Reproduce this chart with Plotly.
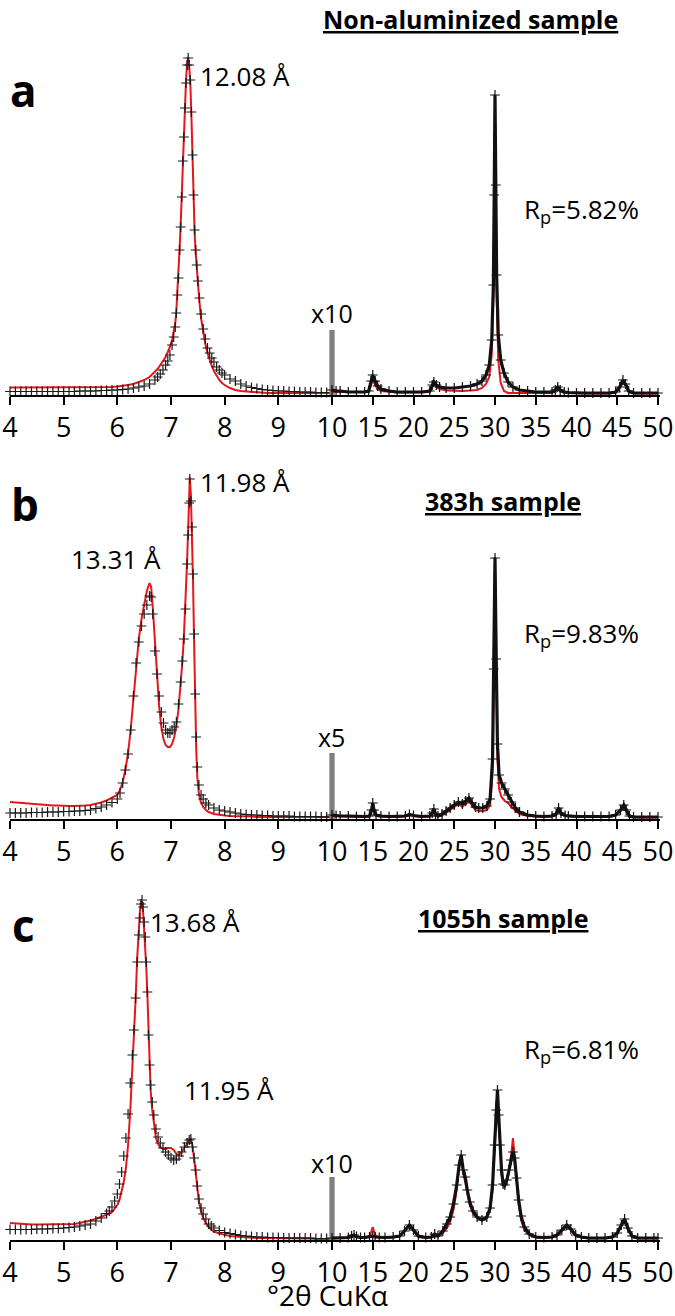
import plotly.graph_objects as go

W, H = 675, 1316

# ---------------- data (intensity in arbitrary units) ----------------
# Panel a : Non-aluminized sample
XA_L = [4.0, 4.1, 4.2, 4.3, 4.4, 4.5, 4.6, 4.7, 4.8, 4.9,
        5.0, 5.1, 5.2, 5.3, 5.4, 5.5, 5.6, 5.7, 5.8, 5.9,
        6.0, 6.1, 6.2, 6.3, 6.4, 6.5, 6.6, 6.7, 6.75, 6.8,
        6.85, 6.9, 6.94, 6.98, 7.02, 7.05, 7.08, 7.1, 7.12, 7.14,
        7.16, 7.18, 7.2, 7.22, 7.24, 7.26, 7.28, 7.3, 7.32, 7.34,
        7.36, 7.38, 7.4, 7.42, 7.44, 7.46, 7.48, 7.5, 7.53, 7.56,
        7.6, 7.64, 7.68, 7.72, 7.76, 7.8, 7.85, 7.9, 7.95, 8.0,
        8.1, 8.2, 8.3, 8.4, 8.5, 8.6, 8.7, 8.8, 8.9, 9.0,
        9.1, 9.2, 9.3, 9.4, 9.5, 9.6, 9.7, 9.8, 9.9, 10.0]
OBS_A_L = [3.5, 3.5, 3.5, 3.5, 3.5, 3.5, 3.5, 3.5, 3.5, 3.5,
           3.5, 3.5, 3.5, 4, 4, 4, 4, 4.5, 4.5, 5,
           5, 5.5, 6, 7, 8, 9, 11, 15, 18, 21,
           25, 30, 34, 40, 50, 58, 68, 82, 100, 117,
           145, 168, 198, 234, 258, 287, 312, 330, 337, 330,
           315, 283, 240, 200, 165, 145, 130, 114, 97, 81,
           66, 56, 47, 42, 37, 33, 28, 25, 22, 20,
           16, 14, 11, 9, 7.5, 6.5, 5.5, 5, 4.5, 4,
           4, 3.5, 3.5, 3, 3, 3, 2.5, 2.5, 2.5, 2.5]
CALC_A_L = [7.5, 7.5, 7.5, 7.5, 7.5, 7.5, 7.5, 7.5, 7.5, 7.5,
            7.5, 7.5, 7.5, 7.5, 7.5, 7.5, 7.5, 8, 8, 8,
            8.5, 9, 10, 11, 13, 15, 18, 23, 26, 30,
            34, 38, 43, 48, 55, 63, 72, 85, 103, 120,
            146, 170, 200, 236, 260, 290, 315, 332, 338, 328,
            312, 280, 238, 198, 163, 142, 125, 110, 93, 77,
            62, 51, 42, 35, 29, 24, 19, 15, 12, 10,
            7, 5, 4, 3.5, 3, 2.5, 2.5, 2, 2, 2,
            2, 2, 2, 2, 2, 2, 2, 2, 2, 2]
XA_R = [10, 10.5, 11, 12, 13, 14, 14.5, 14.8, 15.0, 15.3,
        15.6, 16, 17, 18, 19, 20, 21, 22, 22.3, 22.5,
        22.8, 23.2, 24, 25, 26, 27, 27.8, 28.4, 28.9, 29.3,
        29.6, 29.8, 29.9, 30.0, 30.1, 30.2, 30.4, 30.7, 31.1, 31.6,
        32.2, 33, 34, 35, 36, 37, 37.4, 37.7, 38.0, 38.5,
        39, 40, 41, 42, 43, 44, 44.8, 45.3, 45.7, 46.0,
        46.4, 47, 48, 49, 50]
OBS_A_R = [5, 4, 4, 3, 3, 3, 4, 14, 20, 14,
           9, 6, 4, 3, 3, 3, 3, 4, 10, 13,
           10, 8, 7, 7, 8, 9, 11, 14, 20, 30,
           55, 110, 200, 300, 210, 120, 60, 35, 22, 13,
           8, 5, 4, 3, 3, 3, 5, 8, 5, 3,
           2.5, 2, 2, 2, 2, 2, 3, 8, 15, 11,
           4, 2, 2, 2, 2]
CALC_A_R = [3, 3, 3, 2.5, 2.5, 2.5, 3, 10, 15, 10,
            6, 4, 3, 2.5, 2.5, 2.5, 2.5, 3, 8, 11,
            8, 6, 4.5, 4, 4, 4.5, 5, 7, 11, 18,
            40, 100, 200, 298, 205, 100, 35, 12, 4, 2,
            2, 2, 2, 2, 2, 2, 4, 7, 4, 2,
            2, 1.5, 1.5, 1.5, 1.5, 1.5, 2.5, 7, 13, 10,
            3, 1.5, 1.5, 1.5, 1.5]

# Panel b : 383h sample
XB_L = [4.0, 4.1, 4.2, 4.3, 4.4, 4.5, 4.6, 4.7, 4.8, 4.9,
        5.0, 5.1, 5.2, 5.3, 5.4, 5.5, 5.6, 5.7, 5.8, 5.9,
        6.0, 6.05, 6.1, 6.15, 6.2, 6.25, 6.3, 6.35, 6.4, 6.45,
        6.5, 6.55, 6.6, 6.63, 6.66, 6.7, 6.74, 6.78, 6.82, 6.86,
        6.9, 6.94, 6.98, 7.02, 7.06, 7.1, 7.14, 7.18, 7.21, 7.24,
        7.27, 7.3, 7.32, 7.34, 7.35, 7.37, 7.39, 7.41, 7.43, 7.45,
        7.47, 7.49, 7.52, 7.56, 7.6, 7.65, 7.7, 7.8, 7.9, 8.0,
        8.1, 8.2, 8.3, 8.4, 8.5, 8.6, 8.7, 8.8, 8.9, 9.0,
        9.1, 9.2, 9.3, 9.4, 9.5, 9.6, 9.7, 9.8, 9.9, 10.0]
OBS_B_L = [6, 6, 6, 6, 6.5, 6.5, 6.5, 7, 7, 7,
           7.5, 7.5, 8, 8, 8.5, 9, 10.5, 12, 14, 16.5,
           20, 26, 36, 49, 65, 89, 123, 156, 177, 193,
           205, 214, 223, 222, 205, 168, 145, 123, 107, 96,
           89, 86, 86, 89, 92, 97, 115, 137, 158, 180,
           210, 255, 284, 316, 340, 318, 292, 245, 185, 125,
           82, 52, 34, 24, 20, 16, 14, 11, 9, 8,
           7, 6, 5, 4.5, 4, 4, 3.5, 3.5, 3, 3,
           3, 3, 2.5, 2.5, 2.5, 2.5, 2.5, 2, 2, 2]
CALC_B_L = [17, 16.5, 16, 15.5, 15, 14.5, 14, 14, 13.5, 13.5,
            13, 13, 13, 13, 13.5, 14, 15, 16.5, 18.5, 21,
            24, 29, 37, 49, 66, 90, 122, 155, 180, 200,
            215, 228, 236, 232, 212, 178, 142, 112, 92, 80,
            74, 72, 72, 75, 82, 93, 110, 133, 156, 182,
            215, 258, 290, 325, 342, 325, 290, 240, 178, 115,
            70, 42, 25, 16, 12, 9, 7, 5, 4, 3.5,
            3, 3, 2.5, 2.5, 2.5, 2, 2, 2, 2, 2,
            2, 2, 2, 2, 2, 2, 2, 2, 2, 2]
XB_R = [10, 10.5, 11, 12, 13, 14, 14.6, 14.85, 15.0, 15.15,
        15.4, 16, 17, 18, 19, 19.5, 20, 21, 22, 22.3,
        22.5, 22.7, 23, 23.5, 24, 24.5, 25, 25.5, 26, 26.4,
        26.8, 27.2, 27.6, 28, 28.5, 29, 29.4, 29.7, 29.85, 30.0,
        30.15, 30.3, 30.5, 30.8, 31.2, 31.6, 32, 32.5, 33, 34,
        35, 36, 37, 37.5, 37.8, 38.1, 38.6, 39, 40, 41,
        42, 43, 44, 44.8, 45.4, 45.8, 46.1, 46.5, 47, 48,
        49, 50]
OBS_B_R = [4, 3.5, 3, 3, 2.5, 2.5, 3, 9, 16, 9,
           4, 3, 2.5, 2.5, 3, 4.5, 3.5, 2.5, 3, 6,
           10, 5, 3, 5, 8, 11, 14, 17, 15, 18,
           21, 16, 12, 11, 11, 13, 20, 60, 150, 261,
           160, 75, 44, 36, 30, 24, 17, 11, 7, 4,
           3, 2.5, 3, 5, 11, 6, 3.5, 3, 2.5, 2.5,
           2.5, 2.5, 2.5, 4, 9, 14, 9, 3, 2, 2,
           2, 2]
CALC_B_R = [3, 3, 2.5, 2.5, 2, 2, 2.5, 8, 14, 8,
            3, 2.5, 2, 2, 2.5, 4, 3, 2, 2.5, 5,
            9, 4, 2.5, 3.5, 6, 9, 12, 15, 12, 16,
            19, 13, 9, 8, 8, 9, 14, 45, 150, 262,
            170, 60, 30, 22, 18, 16, 12, 8, 5, 3,
            2.5, 2, 2.5, 4, 10, 5, 3, 2.5, 2, 2,
            2, 2, 2, 3.5, 8, 13, 8, 2.5, 1.5, 1.5,
            1.5, 1.5]

# Panel c : 1055h sample
XC_L = [4.0, 4.1, 4.2, 4.3, 4.4, 4.5, 4.6, 4.7, 4.8, 4.9,
        5.0, 5.1, 5.2, 5.3, 5.4, 5.5, 5.6, 5.7, 5.8, 5.85,
        5.9, 5.95, 6.0, 6.04, 6.08, 6.12, 6.16, 6.2, 6.24, 6.28,
        6.31, 6.34, 6.37, 6.4, 6.42, 6.44, 6.46, 6.48, 6.5, 6.52,
        6.54, 6.56, 6.58, 6.6, 6.62, 6.65, 6.68, 6.72, 6.76, 6.8,
        6.85, 6.9, 6.95, 7.0, 7.05, 7.1, 7.15, 7.2, 7.25, 7.3,
        7.34, 7.37, 7.4, 7.43, 7.46, 7.49, 7.52, 7.56, 7.6, 7.65,
        7.7, 7.75, 7.8, 7.9, 8.0, 8.1, 8.2, 8.3, 8.4, 8.5,
        8.6, 8.7, 8.8, 8.9, 9.0, 9.1, 9.2, 9.3, 9.4, 9.5,
        9.6, 9.7, 9.8, 9.9, 10.0]
OBS_C_L = [10.5, 10.5, 10.5, 10.5, 10.5, 11, 11, 11, 11.5, 11.5,
           12, 12.5, 13, 14, 15, 16, 19, 22, 26.5, 29,
           33, 39, 46, 56, 68, 84, 102, 126, 157, 185,
           210, 242, 278, 305, 322, 336, 340, 333, 318, 303,
           278, 248, 205, 175, 155, 138, 125, 111, 103, 97,
           92, 88, 85, 82, 80, 81, 84, 88, 93, 97,
           100, 101, 93, 82, 70, 54, 41, 32, 26, 21,
           16, 14, 12, 9.5, 7.5, 6.5, 5.5, 4.5, 4, 3.5,
           3, 3, 2.5, 2.5, 2.5, 2, 2, 2, 2, 2,
           2, 1.5, 1.5, 1.5, 1.5]
CALC_C_L = [17, 16.5, 16, 16, 15.5, 15.5, 15.5, 15.5, 15.5, 15.5,
            15.5, 16, 16, 17, 18, 19.5, 21, 23, 25, 26.5,
            28, 32, 35, 40, 48, 58, 72, 95, 128, 168,
            200, 240, 282, 312, 328, 338, 338, 328, 312, 295,
            272, 245, 205, 172, 150, 130, 115, 102, 96, 93,
            91, 91, 92, 92, 90, 86, 85, 88, 92, 96,
            100, 101, 94, 82, 66, 50, 38, 29, 22, 17,
            13, 10.5, 8.5, 6.5, 5, 4, 3.5, 3, 2.5, 2.5,
            2, 2, 2, 2, 2, 1.5, 1.5, 1.5, 1.5, 1.5,
            1.5, 1, 1, 1, 1]
XC_R = [10, 11, 12, 12.4, 12.7, 13, 13.5, 14, 14.6, 15.0,
        15.3, 15.8, 16.5, 17.5, 18.3, 18.9, 19.5, 20.0, 20.6, 21.5,
        22.2, 22.6, 23.0, 23.6, 24.1, 24.5, 24.9, 25.3, 25.6, 25.85,
        26.1, 26.35, 26.6, 26.9, 27.3, 27.8, 28.4, 29.0, 29.4, 29.7,
        29.95, 30.15, 30.3, 30.45, 30.6, 30.8, 31.0, 31.2, 31.45, 31.7,
        31.95, 32.2, 32.4, 32.65, 32.9, 33.2, 33.6, 34.2, 35, 36,
        37, 37.6, 38.2, 38.8, 39.3, 39.9, 40.6, 41.5, 42.5, 43.5,
        44.4, 45.0, 45.5, 45.9, 46.3, 46.8, 47.5, 48.5, 49.5, 50]
OBS_C_R = [2, 2, 2.5, 4, 5, 3.5, 2.5, 2.5, 3, 4,
           3, 2.5, 2.5, 3, 4, 9, 15, 10, 4, 2.5,
           3, 6, 4, 9, 16, 23, 36, 55, 75, 85,
           70, 63, 50, 38, 29, 23, 20, 23, 32, 55,
           95, 130, 150, 125, 95, 70, 56, 55, 60, 70,
           80, 88, 82, 62, 40, 24, 13, 6, 3, 2.5,
           3, 5, 10, 15, 11, 5, 3, 2, 2, 2,
           3, 7, 15, 21, 12, 4, 2, 2, 2, 2]
CALC_C_R = [1.5, 1.5, 2, 3, 4, 3, 2, 2, 3, 13,
            5, 2, 2, 2.5, 4, 10, 14, 9, 3, 2,
            2.5, 4, 3.5, 7, 12, 18, 30, 50, 76, 82,
            66, 58, 46, 35, 27, 22, 20, 22, 30, 50,
            95, 135, 145, 120, 88, 66, 54, 53, 58, 68,
            82, 102, 85, 58, 36, 20, 10, 5, 2.5, 2,
            2.5, 4, 9, 14, 10, 4, 2.5, 1.5, 1.5, 1.5,
            2.5, 6, 14, 20, 11, 3, 1.5, 1.5, 1.5, 1.5]

SCALE_X = 10
SCALE_H = [65, 66, 63]
SCALE_LABELS = ["x10", "x5", "x10"]
LEFT_TICKS = [4, 5, 6, 7, 8, 9]
RIGHT_TICKS = [10, 15, 20, 25, 30, 35, 40, 45, 50]

PANELS = [
    dict(xl=XA_L, ol=OBS_A_L, cl=CALC_A_L, xr=XA_R, orr=OBS_A_R, cr=CALC_A_R),
    dict(xl=XB_L, ol=OBS_B_L, cl=CALC_B_L, xr=XB_R, orr=OBS_B_R, cr=CALC_B_R),
    dict(xl=XC_L, ol=OBS_C_L, cl=CALC_C_L, xr=XC_R, orr=OBS_C_R, cr=CALC_C_R),
]
for p in PANELS:
    assert len(p["xl"]) == len(p["ol"]) == len(p["cl"]), (len(p["xl"]), len(p["ol"]), len(p["cl"]))
    assert len(p["xr"]) == len(p["orr"]) == len(p["cr"]), (len(p["xr"]), len(p["orr"]), len(p["cr"]))

# ---------------- layout geometry (pixels) ----------------
BASE_PX = [395, 819, 1240]
Y_SPAN = 345
LEFT_DOM = (10, 332)
PX_PER_DEG_R = 8.15
RIGHT_RANGE = [9.6, 50.2]
RIGHT_DOM = (332 - 0.4 * PX_PER_DEG_R, 332 + 40.2 * PX_PER_DEG_R)

RED = "#e5161c"
FONT = "Open Sans"


def fx(px):
    return px / W


def fy(py):
    return 1 - py / H


fig = go.Figure()
layout_axes = {}
for i, p in enumerate(PANELS):
    xl_id = "x" if i == 0 else "x%d" % (2 * i + 1)
    xr_id = "x%d" % (2 * i + 2)
    y_id = "y" if i == 0 else "y%d" % (i + 1)
    # calculated (red line)
    fig.add_trace(go.Scatter(x=p["xl"], y=p["cl"], mode="lines", line=dict(color=RED, width=2),
                             xaxis=xl_id, yaxis=y_id, showlegend=False, cliponaxis=False))
    fig.add_trace(go.Scatter(x=p["xr"], y=p["cr"], mode="lines", line=dict(color=RED, width=2),
                             xaxis=xr_id, yaxis=y_id, showlegend=False, cliponaxis=False))
    # observed (black crosses)
    fig.add_trace(go.Scatter(x=p["xl"], y=p["ol"], mode="markers",
                             marker=dict(symbol="cross-thin", size=7, color="#1a1a1a",
                                         line=dict(color="#1a1a1a", width=1.2)),
                             xaxis=xl_id, yaxis=y_id, showlegend=False, cliponaxis=False))
    fig.add_trace(go.Scatter(x=p["xr"], y=p["orr"], mode="lines+markers",
                             line=dict(color="#111111", width=3.2),
                             marker=dict(symbol="cross-thin", size=7, color="#111111",
                                         line=dict(color="#111111", width=1.2)),
                             xaxis=xr_id, yaxis=y_id, showlegend=False, cliponaxis=False))
    # scale-change bar
    fig.add_trace(go.Bar(x=[SCALE_X], y=[SCALE_H[i]], width=0.65, marker_color="#808080",
                         marker_line_width=0, xaxis=xr_id, yaxis=y_id, showlegend=False))

    common = dict(showline=True, linecolor="black", linewidth=2, ticks="outside", ticklen=8,
                  tickwidth=2, tickcolor="black", showgrid=False, zeroline=False, tickangle=0,
                  automargin=False,
                  tickfont=dict(family=FONT, size=27, color="black"), anchor=y_id)
    xl_key = "xaxis" if i == 0 else "xaxis%d" % (2 * i + 1)
    xr_key = "xaxis%d" % (2 * i + 2)
    y_key = "yaxis" if i == 0 else "yaxis%d" % (i + 1)
    layout_axes[xl_key] = dict(common, domain=[fx(LEFT_DOM[0]), fx(LEFT_DOM[1])], range=[4, 10],
                               tickmode="array", tickvals=LEFT_TICKS,
                               ticktext=[str(t) for t in LEFT_TICKS])
    layout_axes[xr_key] = dict(common, domain=[fx(RIGHT_DOM[0]), fx(RIGHT_DOM[1])], range=RIGHT_RANGE,
                               tickmode="array", tickvals=RIGHT_TICKS,
                               ticktext=[str(t) for t in RIGHT_TICKS])
    layout_axes[y_key] = dict(domain=[fy(BASE_PX[i]), fy(BASE_PX[i] - Y_SPAN)], range=[0, Y_SPAN],
                              visible=False, automargin=False, anchor=xl_id)

ann = []


def text(s, px, py, size, xanchor="left", bold=False, under=False, yanchor="middle"):
    f = dict(family=FONT, size=size, color="black")
    if under:
        f["lineposition"] = "under"
    ann.append(dict(text=("<b>%s</b>" % s) if bold else s, x=fx(px), y=fy(py), xref="paper", yref="paper",
                    xanchor=xanchor, yanchor=yanchor, showarrow=False, font=f))


# panel a
text("a", 23, 90, 44, "center", bold=True)
text("12.08 Å", 198, 76, 26)
text("Non-aluminized sample", 470, 0, 25, "center", bold=True, under=True, yanchor="top")
text("R<sub>p</sub>=5.82%", 522, 210, 26)
text(SCALE_LABELS[0], 332, 313, 25, "center")
# panel b
text("b", 25, 504, 44, "center", bold=True)
text("13.31 Å", 69, 559, 26)
text("11.98 Å", 198, 482, 26)
text("383h sample", 503, 501, 25, "center", bold=True, under=True)
text("R<sub>p</sub>=9.83%", 522, 634, 26)
text(SCALE_LABELS[1], 331, 737, 25, "center")
# panel c
text("c", 23, 925, 44, "center", bold=True)
text("13.68 Å", 148, 922, 26)
text("11.95 Å", 182, 1090, 26)
text("1055h sample", 503, 918, 25, "center", bold=True, under=True)
text("R<sub>p</sub>=6.81%", 522, 1050, 26)
text(SCALE_LABELS[2], 332, 1163, 25, "center")
# axis title
text("°2θ CuKα", 327, 1316, 28, "center", yanchor="bottom")

fig.update_layout(width=W, height=H, margin=dict(l=0, r=0, t=0, b=0, autoexpand=False),
                  paper_bgcolor="white",
                  plot_bgcolor="rgba(0,0,0,0)", showlegend=False, annotations=ann,
                  font=dict(family=FONT, color="black"), **layout_axes)
fig.write_html("out.html", config={"displayModeBar": False},
               post_script="document.body.style.margin='0';document.body.style.overflow='hidden';")
